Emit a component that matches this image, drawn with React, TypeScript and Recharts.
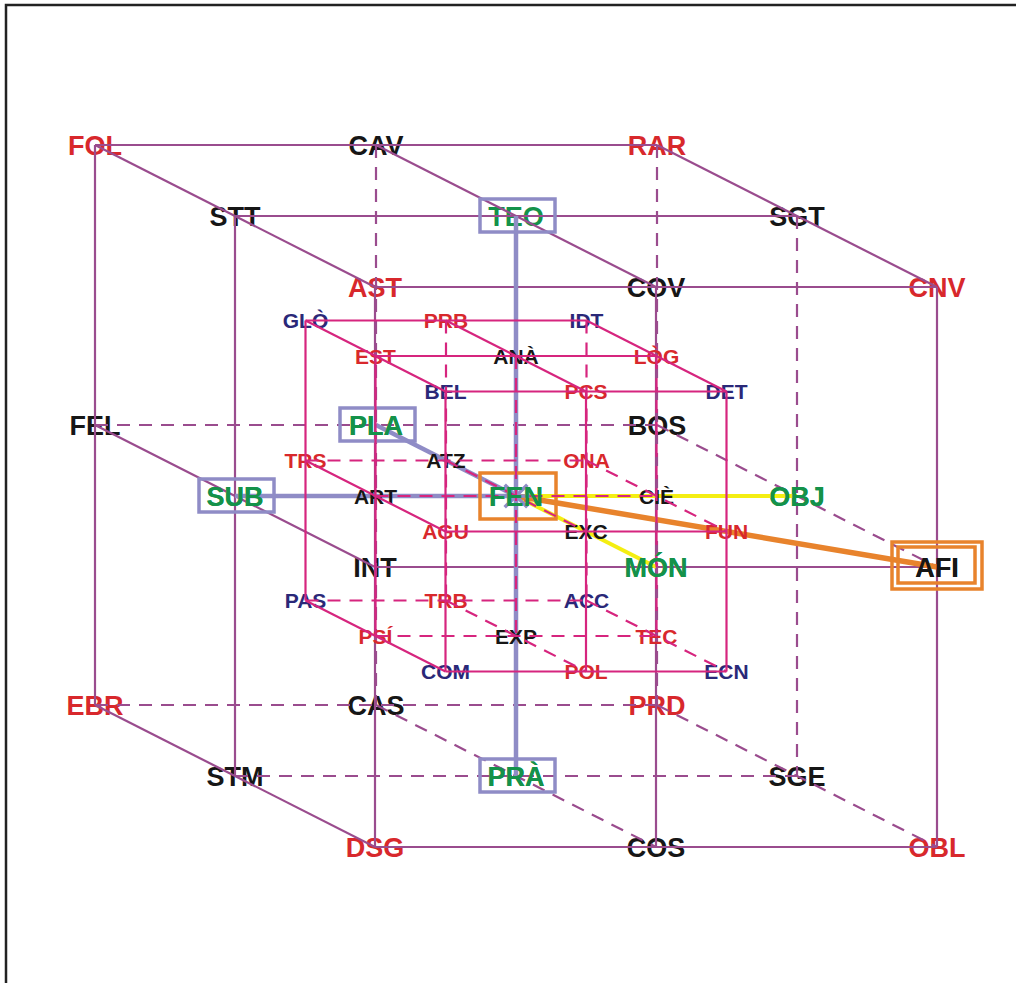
import { ScatterChart, Scatter, XAxis, YAxis } from 'recharts';

const W = 1016;
const H = 983;

// grid order: layer (top -> bottom), row (back -> front), column (left -> right)
const outerNames = [
  'FOL', 'CAV', 'RAR', 'STT', 'TEO', 'SGT', 'AST', 'COV', 'CNV',
  'FEL', 'PLA', 'BOS', 'SUB', 'FEN', 'OBJ', 'INT', 'MÓN', 'AFI',
  'EBR', 'CAS', 'PRD', 'STM', 'PRÀ', 'SGE', 'DSG', 'COS', 'OBL',
];
const outerTones = [
  'r', 'k', 'r', 'k', 'g', 'k', 'r', 'k', 'r',
  'k', 'g', 'k', 'g', 'g', 'g', 'k', 'g', 'k',
  'r', 'k', 'r', 'k', 'g', 'k', 'r', 'k', 'r',
];
const innerNames = [
  'GLÒ', 'PRB', 'IDT', 'EST', 'ANÀ', 'LÒG', 'BEL', 'PCS', 'DET',
  'TRS', 'ATZ', 'ONA', 'ART', '', 'CIÈ', 'AGU', 'EXC', 'FUN',
  'PAS', 'TRB', 'ACC', 'PSÍ', 'EXP', 'TEC', 'COM', 'POL', 'ECN',
];
const innerTones = [
  'n', 'r', 'n', 'r', 'k', 'r', 'n', 'r', 'n',
  'r', 'k', 'r', 'k', '', 'k', 'r', 'k', 'r',
  'n', 'r', 'n', 'r', 'k', 'r', 'n', 'r', 'n',
];

const focus = 'FEN';
const lavenderBoxes = ['TEO', 'PLA', 'SUB', 'PRÀ'];
const orangeBoxes = ['FEN'];
const doubleBoxes = ['AFI'];
const lavenderLinks = [['TEO', 'FEN'], ['FEN', 'PRÀ'], ['SUB', 'FEN'], ['PLA', 'FEN']];
const yellowLinks = [['FEN', 'OBJ'], ['FEN', 'MÓN']];
const orangeLinks = [['FEN', 'AFI']];

const toneColor: Record<string, string> = {
  r: '#d8282c',
  k: '#161616',
  g: '#14924a',
  n: '#2a2878',
};
const OUTER_LINE = '#9a4c8e';
const INNER_LINE = '#d6257e';
const LAVENDER = '#8f8cc6';
const ORANGE = '#e8832c';
const YELLOW = '#f4ee12';
const FONT = '"Liberation Sans", Arial, sans-serif';

// oblique projection of the 3x3x3 grids
const center = { x: 516, y: 496 };
function project(i: number, j: number, k: number, s: number) {
  return {
    x: center.x + s * ((i - 1) * 281 + (j - 1) * 140),
    y: center.y + s * ((j - 1) * 71 + (k - 1) * 280),
  };
}

type Node = { name: string; tone: string; x: number; y: number; size: number };

function buildNodes(names: string[], tones: string[], s: number, size: number): Node[] {
  const out: Node[] = [];
  names.forEach((name, idx) => {
    if (!name) return;
    const k = Math.floor(idx / 9);
    const j = Math.floor((idx % 9) / 3);
    const i = idx % 3;
    out.push({ name, tone: tones[idx], size, ...project(i, j, k, s) });
  });
  return out;
}

const outerNodes = buildNodes(outerNames, outerTones, 1, 27);
const innerNodes = buildNodes(innerNames, innerTones, 0.5, 21);
const nodes = [...outerNodes, ...innerNodes];
const byName = (n: string) => nodes.find((d) => d.name === n)!;

// labels at the ends of the highlighted links sit above them
const linkedNames = Array.from(new Set([...lavenderLinks, ...yellowLinks, ...orangeLinks].flat())).filter(
  (n) => n !== 'TEO'
);
const linkedNodes = linkedNames.map(byName);

// visible faces: top (k=0), left (i=0), front (j=2); the rest is dashed
function buildEdges(s: number) {
  const edges: { pts: { x: number; y: number }[]; dashed: boolean }[] = [];
  for (let a = 0; a < 3; a++) {
    for (let b = 0; b < 3; b++) {
      edges.push({ pts: [0, 1, 2].map((t) => project(t, a, b, s)), dashed: !(b === 0 || a === 2) });
      edges.push({ pts: [0, 1, 2].map((t) => project(a, t, b, s)), dashed: !(b === 0 || a === 0) });
      edges.push({ pts: [0, 1, 2].map((t) => project(a, b, t, s)), dashed: !(a === 0 || b === 2) });
    }
  }
  return edges;
}
const outerEdges = buildEdges(1);
const innerEdges = buildEdges(0.5);

const frame = [{ x: 6, y: H }, { x: 6, y: 5 }, { x: W, y: 5 }];

const Empty = () => <g />;

const LabelShape = (props: any) => {
  const { cx, cy, payload } = props;
  const fs = payload.size;
  return (
    <text
      x={cx}
      y={cy + fs * 0.36}
      textAnchor="middle"
      fontSize={fs}
      fontWeight="bold"
      fontFamily={FONT}
      fill={toneColor[payload.tone]}
    >
      {payload.name}
    </text>
  );
};

const BoxShape = (props: any) => {
  const { cx, cy, payload } = props;
  if (payload.kind === 'lav') {
    return <rect x={cx - 36} y={cy - 17} width={75} height={33} fill="none" stroke={LAVENDER} strokeWidth={3.5} />;
  }
  if (payload.kind === 'orange') {
    return <rect x={cx - 36} y={cy - 23} width={76} height={46} fill="none" stroke={ORANGE} strokeWidth={3.5} />;
  }
  return (
    <g fill="none" stroke={ORANGE} strokeWidth={3.5}>
      <rect x={cx - 45} y={cy - 25} width={90} height={47} />
      <rect x={cx - 39} y={cy - 20} width={77} height={36} />
    </g>
  );
};

const StarShape = (props: any) => {
  const { cx, cy } = props;
  const spokes = [0, 45, 90, 135, 180, 225, 270, 315];
  return (
    <g stroke={LAVENDER} strokeWidth={3.5}>
      {spokes.map((a) => (
        <line
          key={a}
          x1={cx}
          y1={cy}
          x2={cx + 16 * Math.cos((a * Math.PI) / 180)}
          y2={cy + 16 * Math.sin((a * Math.PI) / 180)}
        />
      ))}
    </g>
  );
};

const boxes = [
  ...lavenderBoxes.map((n) => ({ ...byName(n), kind: 'lav' })),
  ...orangeBoxes.map((n) => ({ ...byName(n), kind: 'orange' })),
  ...doubleBoxes.map((n) => ({ ...byName(n), kind: 'double' })),
];

const linkPts = (pair: string[]) => pair.map((n) => ({ x: byName(n).x, y: byName(n).y }));

export default function App() {
  return (
    <div style={{ width: W, height: H, background: '#fff' }}>
      <style>{'body{margin:0}'}</style>
      <ScatterChart width={W} height={H} margin={{ top: 0, right: 0, bottom: 0, left: 0 }}>
        <XAxis type="number" dataKey="x" domain={[0, W]} allowDataOverflow hide />
        <YAxis type="number" dataKey="y" domain={[0, H]} allowDataOverflow reversed hide />
        <Scatter data={frame} line={{ stroke: '#222', strokeWidth: 2.5 }} shape={Empty} isAnimationActive={false} />
        <Scatter data={outerNodes} shape={LabelShape} isAnimationActive={false} />
        {outerEdges.map((e, i) => (
          <Scatter
            key={'oe' + i}
            data={e.pts}
            line={{ stroke: OUTER_LINE, strokeWidth: 2.2, strokeDasharray: e.dashed ? '13 9' : undefined }}
            shape={Empty}
            isAnimationActive={false}
          />
        ))}
        {lavenderLinks.map((p, i) => (
          <Scatter key={'lv' + i} data={linkPts(p)} line={{ stroke: LAVENDER, strokeWidth: 4.5 }} shape={Empty} isAnimationActive={false} />
        ))}
        {yellowLinks.map((p, i) => (
          <Scatter key={'yl' + i} data={linkPts(p)} line={{ stroke: YELLOW, strokeWidth: 4 }} shape={Empty} isAnimationActive={false} />
        ))}
        {orangeLinks.map((p, i) => (
          <Scatter key={'or' + i} data={linkPts(p)} line={{ stroke: ORANGE, strokeWidth: 5.5 }} shape={Empty} isAnimationActive={false} />
        ))}
        <Scatter data={[byName(focus)]} shape={StarShape} isAnimationActive={false} />
        <Scatter data={boxes} shape={BoxShape} isAnimationActive={false} />
        <Scatter data={innerNodes} shape={LabelShape} isAnimationActive={false} />
        {innerEdges.map((e, i) => (
          <Scatter
            key={'ie' + i}
            data={e.pts}
            line={{ stroke: INNER_LINE, strokeWidth: 2.2, strokeDasharray: e.dashed ? '13 9' : undefined }}
            shape={Empty}
            isAnimationActive={false}
          />
        ))}
        <Scatter data={linkedNodes} shape={LabelShape} isAnimationActive={false} />
      </ScatterChart>
    </div>
  );
}
